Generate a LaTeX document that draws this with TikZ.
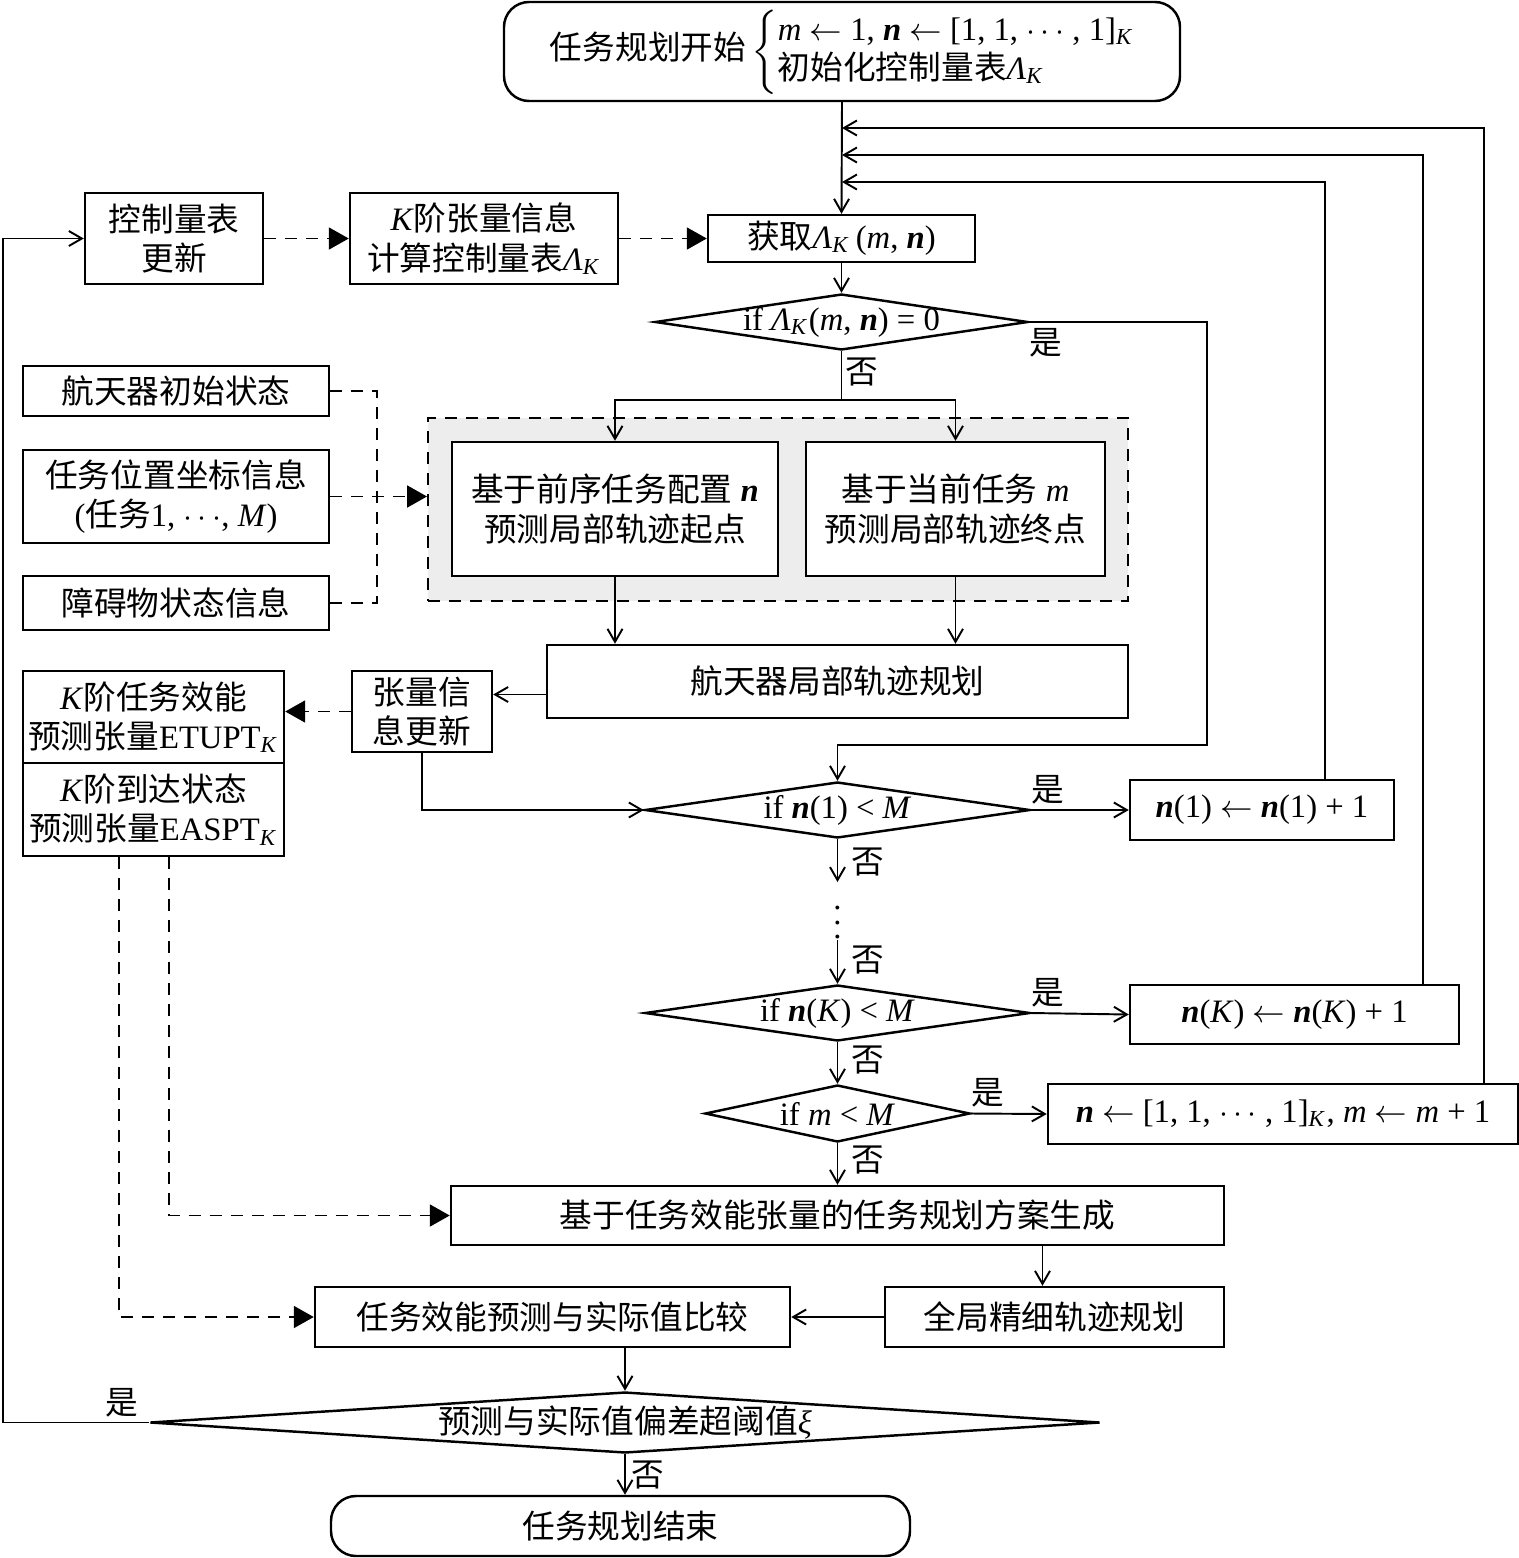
\documentclass[tikz,border=0pt]{standalone}
\usepackage{fontspec}
\setmainfont{Liberation Serif}
\newfontfamily\cjk{Noto Sans CJK SC}
\usetikzlibrary{arrows.meta,shapes.geometric}
\newcommand{\zh}[1]{{\cjk #1}}
\newcommand{\vm}{\textit{m}}
\newcommand{\vn}{\textbf{\textit{n}}}
\newcommand{\VM}{\textit{M}}
\newcommand{\LK}{\textit{Λ}\textsubscript{\textit{K}}}
\begin{document}
\begin{tikzpicture}[font=\fontsize{9.3}{11.2}\selectfont,line width=0.55pt,
        >={Straight Barb[length=1.3mm,width=1.5mm]},
        box/.style={rectangle,draw,line width=0.7pt,inner sep=0pt,align=center},
        term/.style={box,rounded corners=2.5mm},
        dec/.style={diamond,draw,line width=0.7pt,inner sep=0pt},
        dashto/.style={dash pattern=on 1.2mm off 0.9mm,-{Triangle[length=2mm,width=2.2mm]}},
        dashln/.style={dash pattern=on 1.2mm off 0.9mm}]
        \useasboundingbox (0,0) rectangle (15.19,-15.58);
        % top of the flow
        \node at (8.42,-0.515) [term,minimum width=6.76cm,minimum height=0.99cm] (start) {\zh{任务规划开始}\,$\bigg\{$\begin{tabular}{@{}l@{}}\vm{} $\leftarrow$ 1, \vn{} $\leftarrow$ [1, 1, $\cdots$ , 1]\textsubscript{\textit{K}}\\ \zh{初始化控制量表}\LK\end{tabular}};
        \node at (8.415,-2.385) [box,minimum width=2.67cm,minimum height=0.47cm] (get) {\zh{获取}\LK\,(\vm, \vn)};
        \node at (8.415,-3.22) [dec,minimum width=3.73cm,minimum height=0.56cm] (d0) {};
        \node at (d0) (d0txt) {if \LK(\vm, \vn) = 0};
        \node at (1.74,-2.385) [box,minimum width=1.78cm,minimum height=0.91cm] (upd) {\zh{控制量表}\\\zh{更新}};
        \node at (4.84,-2.385) [box,minimum width=2.68cm,minimum height=0.91cm] (ktb) {\textit{K}\zh{阶张量信息}\\\zh{计算控制量表}\LK};
        % local planning
        \node at (7.78,-5.095) [rectangle,draw,dashln,fill=black!7,minimum width=7.0cm,minimum height=1.83cm] (grp) {};
        \node at (6.15,-5.09) [box,fill=white,minimum width=3.26cm,minimum height=1.34cm] (bka) {\zh{基于前序任务配置} \vn\\\zh{预测局部轨迹起点}};
        \node at (9.555,-5.09) [box,fill=white,minimum width=2.99cm,minimum height=1.34cm] (bkb) {\zh{基于当前任务} \vm\\\zh{预测局部轨迹终点}};
        \node at (8.375,-6.815) [box,minimum width=5.81cm,minimum height=0.73cm] (plan) {\zh{航天器局部轨迹规划}};
        \node at (1.76,-3.91) [box,minimum width=3.06cm,minimum height=0.50cm] (in1) {\zh{航天器初始状态}};
        \node at (1.76,-4.965) [box,minimum width=3.06cm,minimum height=0.93cm] (in2) {\zh{任务位置坐标信息}\\(\zh{任务}1, $\cdots$, \VM)};
        \node at (1.76,-6.03) [box,minimum width=3.06cm,minimum height=0.54cm] (in3) {\zh{障碍物状态信息}};
        \node at (4.22,-7.115) [box,minimum width=1.40cm,minimum height=0.81cm] (tu) {\zh{张量信}\\\zh{息更新}};
        \node at (1.535,-7.17) [box,minimum width=2.61cm,minimum height=0.92cm] (et) {\textit{K}\zh{阶任务效能}\\\zh{预测张量}ETUPT\textsubscript{\textit{K}}};
        \node at (1.535,-8.095) [box,minimum width=2.61cm,minimum height=0.93cm] (ea) {\textit{K}\zh{阶到达状态}\\\zh{预测张量}EASPT\textsubscript{\textit{K}}};
        % counters
        \node at (8.375,-8.10) [dec,minimum width=3.85cm,minimum height=0.56cm] (d1) {};
        \node at (d1) (d1txt) {if \vn(1) < \VM};
        \node at (12.62,-8.10) [box,minimum width=2.64cm,minimum height=0.60cm] (b1) {\vn(1) $\leftarrow$ \vn(1) + 1};
        \node at (8.375,-9.12) (dots) {$\vdots$};
        \node at (8.375,-10.13) [dec,minimum width=3.85cm,minimum height=0.56cm] (dK) {};
        \node at (dK) (dKtxt) {if \vn(\textit{K}) < \VM};
        \node at (12.945,-10.145) [box,minimum width=3.29cm,minimum height=0.59cm] (bK) {\vn(\textit{K}) $\leftarrow$ \vn(\textit{K}) + 1};
        \node at (8.375,-11.135) [dec,minimum width=2.65cm,minimum height=0.57cm] (dm) {};
        \node at (dm) (dmtxt) {if \vm{} < \VM};
        \node at (12.83,-11.14) [box,minimum width=4.70cm,minimum height=0.60cm] (bm) {\vn{} $\leftarrow$ [1, 1, $\cdots$ , 1]\textsubscript{\textit{K}}, \vm{} $\leftarrow$ \vm{} + 1};
        % global part
        \node at (8.375,-12.155) [box,minimum width=7.73cm,minimum height=0.59cm] (gen) {\zh{基于任务效能张量的任务规划方案生成}};
        \node at (10.545,-13.17) [box,minimum width=3.39cm,minimum height=0.60cm] (glob) {\zh{全局精细轨迹规划}};
        \node at (5.525,-13.17) [box,minimum width=4.75cm,minimum height=0.60cm] (cmp) {\zh{任务效能预测与实际值比较}};
        \node at (6.25,-14.225) [dec,minimum width=9.50cm,minimum height=0.61cm] (dbig) {};
        \node at (dbig) (dbigtxt) {\zh{预测与实际值偏差超阈值}\textit{ξ}};
        \node at (6.205,-15.26) [term,minimum width=5.79cm,minimum height=0.60cm] (stop) {\zh{任务规划结束}};
        % yes / no
        \node at (10.46,-3.43) (y0) {\zh{是}};
        \node at (8.62,-3.72) (n0) {\zh{否}};
        \node at (10.48,-7.90) (y1) {\zh{是}};
        \node at (8.68,-8.62) (n1) {\zh{否}};
        \node at (8.68,-9.60) (n2) {\zh{否}};
        \node at (10.48,-9.93) (yK) {\zh{是}};
        \node at (8.68,-10.60) (nK) {\zh{否}};
        \node at (9.88,-10.93) (ym) {\zh{是}};
        \node at (8.68,-11.60) (nm) {\zh{否}};
        \node at (1.22,-14.03) (yb) {\zh{是}};
        \node at (6.48,-14.75) (nb) {\zh{否}};
        \coordinate (j1) at (8.42,-1.82);
        \coordinate (j2) at (8.42,-1.55);
        \coordinate (j3) at (8.42,-1.28);
        \coordinate (br) at (8.415,-4.00);
        \coordinate (r0) at (12.07,-7.45);
        \coordinate (c1) at (8.375,-8.82);
        \coordinate (c2) at (8.375,-9.40);
        \coordinate (lx) at (0.03,-14.225);
        \coordinate (dx) at (3.77,-3.91);
        % connectors
        \draw[->] (start.south) -- (get.north);
        \draw[->] ([xshift=6.3mm]b1.north) |- (j1);
        \draw[->] ([xshift=12.85mm]bK.north) |- (j2);
        \draw[->] ([xshift=20.1mm]bm.north) |- (j3);
        \draw[->] (get.south) -- (d0.north);
        \draw (d0.south) -- (br);
        \draw[->] (br) -| (bka.north);
        \draw[->] (br) -| (bkb.north);
        \draw[->] (bka.south) -- (bka.south |- plan.north);
        \draw[->] (bkb.south) -- (bkb.south |- plan.north);
        \draw[->] (d0.east) -| (r0) -- (r0 -| d1.north) -- (d1.north);
        \draw[dashto] (upd.east) -- (ktb.west);
        \draw[dashto] (ktb.east) -- (get.west);
        \draw[dashln] (in1.east) -- (dx) |- (in3.east);
        \draw[dashto] (in2.east) -- (in2.east -| grp.west);
        \draw[->] ([yshift=-1.3mm]plan.west) -- ([yshift=-1.3mm]plan.west -| tu.east);
        \draw[dashto] (tu.west) -- (tu.west -| et.east);
        \draw[->] (tu.south) |- (d1.west);
        \draw[->] (d1.east) -- (b1.west);
        \draw[->] (d1.south) -- (c1);
        \draw[->] (c2) -- (dK.north);
        \draw[->] (dK.east) -- (bK.west);
        \draw[->] (dK.south) -- (dm.north);
        \draw[->] (dm.east) -- (bm.west);
        \draw[->] (dm.south) -- (gen.north);
        \draw[dashto] ([xshift=1.55mm]ea.south) |- (gen.west);
        \draw[dashto] ([xshift=-3.45mm]ea.south) |- (cmp.west);
        \draw[->] ([xshift=-1.2mm]glob.north |- gen.south) -- ([xshift=-1.2mm]glob.north);
        \draw[->] (glob.west) -- (cmp.east);
        \draw[->] (cmp.south -| dbig.north) -- (dbig.north);
        \draw[->] (dbig.south) -- (dbig.south |- stop.north);
        \draw[->] (dbig.west) -- (lx) |- (upd.west);
\end{tikzpicture}
\end{document}
